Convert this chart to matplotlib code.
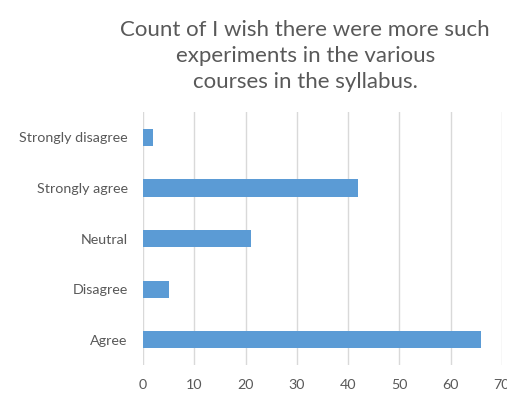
import matplotlib
matplotlib.use("Agg")
import matplotlib.pyplot as plt

categories = ["Agree", "Disagree", "Neutral", "Strongly agree", "Strongly disagree"]
counts = [66, 5, 21, 42, 2]
xticks = [0, 10, 20, 30, 40, 50, 60, 70]

plt.rcParams['font.family'] = ['Lato', 'DejaVu Sans']

fig = plt.figure(figsize=(5.07, 3.94), dpi=100)
ax = fig.add_axes([0.282, 0.0736, 0.708, 0.642])

ax.barh(range(len(categories)), counts, height=0.34, color="#5b9bd5", zorder=3)
ax.set_xlim(0, 70)
ax.set_ylim(-0.5, len(categories) - 0.5)
ax.set_xticks(xticks)
ax.set_yticks(range(len(categories)))
ax.set_yticklabels(categories)
ax.grid(axis="x", color="#d9d9d9", linewidth=1, zorder=0)
for s in ax.spines.values():
    s.set_visible(False)
ax.tick_params(axis="both", length=0, colors="#595959", labelsize=10.3)
ax.tick_params(axis="x", pad=10)
ax.tick_params(axis="y", pad=11)

fig.text(0.602, 0.858, "Count of I wish there were more such\nexperiments in the various\ncourses in the syllabus.",
         ha="center", va="center", fontsize=16, color="#595959", linespacing=1.4)

fig.savefig("out.png", dpi=100)
